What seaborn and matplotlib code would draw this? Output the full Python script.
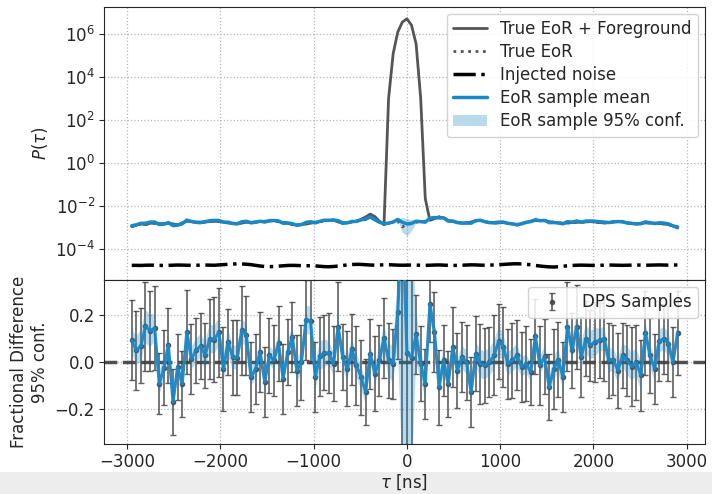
import numpy as np
import pandas as pd
import matplotlib
matplotlib.use("Agg")
import matplotlib.pyplot as plt
from matplotlib.patches import Rectangle
from matplotlib.ticker import NullLocator
import seaborn as sns

# ---------------- data ----------------
n_delays = 120
delay_step_ns = 49.2
tau = (np.arange(n_delays) - n_delays // 2) * delay_step_ns

# True EoR power (units of 1e-3)
eor_true_e3 = [
    1.09, 1.26, 1.45, 1.35, 1.56, 1.56, 1.50, 1.45, 1.56, 1.45,
    1.30, 1.61, 1.93, 1.86, 1.67, 1.61, 1.79, 1.86, 1.93, 1.86,
    1.79, 1.61, 1.50, 1.45, 1.61, 1.73, 1.73, 1.79, 1.86, 1.93,
    2.00, 2.07, 1.86, 1.67, 1.56, 1.35, 1.30, 1.35, 1.45, 1.56,
    1.73, 1.86, 2.07, 2.07, 2.22, 1.79, 1.56, 1.67, 1.79, 1.93,
    2.39, 2.75, 2.96, 2.39, 1.73, 1.35, 1.56, 1.79, 1.93, 1.05,
    1.40, 1.50, 1.73, 1.86, 1.93, 2.15, 2.56, 3.08, 2.75, 2.15,
    1.86, 1.73, 1.56, 1.61, 1.79, 2.00, 2.15, 1.86, 1.67, 1.61,
    1.61, 1.67, 1.56, 1.45, 1.30, 1.50, 1.73, 1.93, 2.07, 2.07,
    2.07, 1.86, 1.73, 1.61, 1.56, 1.61, 1.67, 1.73, 1.73, 1.79,
    1.86, 1.79, 1.67, 1.61, 1.67, 1.79, 1.93, 1.79, 1.61, 1.56,
    1.45, 1.56, 1.61, 1.61, 1.56, 1.50, 1.45, 1.35, 1.17, 0.94,
]

# Foreground power near tau = 0 (indices 50..66), negligible elsewhere
fg_index = [50, 51, 52, 53, 54, 55, 56, 57, 58, 59, 60, 61, 62, 63, 64, 65, 66]
fg_power = [0.0, 3e-4, 1.2e-3, 8e-4, 2e-4, 0.0, 1.0e3, 1.2e5, 1.2e6, 3.5e6,
            5.0e6, 2.5e6, 3.4e5, 1.0e3, 2.0e-2, 0.0, 0.0]

# Injected noise (units of 1e-5)
noise_e5 = [
    1.72, 1.72, 1.70, 1.74, 1.76, 1.74, 1.72, 1.70, 1.72, 1.75,
    1.78, 1.76, 1.74, 1.72, 1.74, 1.76, 1.78, 1.76, 1.74, 1.80,
    1.86, 1.92, 1.98, 2.02, 2.00, 1.94, 1.85, 1.72, 1.60, 1.52,
    1.50, 1.52, 1.58, 1.64, 1.70, 1.72, 1.70, 1.66, 1.64, 1.66,
    1.62, 1.56, 1.50, 1.48, 1.52, 1.60, 1.70, 1.80, 1.88, 1.92,
    1.90, 1.84, 1.78, 1.76, 1.78, 1.82, 1.84, 1.80, 1.76, 1.74,
    1.76, 1.78, 1.76, 1.74, 1.72, 1.74, 1.78, 1.80, 1.76, 1.72,
    1.70, 1.72, 1.74, 1.78, 1.82, 1.80, 1.76, 1.74, 1.76, 1.80,
    1.84, 1.90, 1.96, 2.02, 2.04, 2.00, 1.92, 1.82, 1.70, 1.60,
    1.52, 1.46, 1.44, 1.48, 1.56, 1.64, 1.70, 1.74, 1.76, 1.74,
    1.72, 1.70, 1.72, 1.76, 1.78, 1.76, 1.74, 1.72, 1.74, 1.76,
    1.78, 1.76, 1.74, 1.76, 1.78, 1.80, 1.78, 1.76, 1.78, 1.80,
]

# Fractional difference of the sample mean / DPS samples
frac_mean = [
    0.093, 0.050, 0.069, 0.153, 0.133, 0.146, -0.093, -0.024, 0.071, -0.171,
    -0.021, -0.093, 0.128, 0.014, 0.050, 0.069, 0.029, 0.100, 0.096, 0.128,
    -0.029, 0.086, 0.021, 0.019, 0.136, 0.114, -0.064, -0.029, 0.043, -0.085,
    0.029, 0.007, 0.081, -0.071, 0.043, 0.107, -0.036, 0.000, 0.181, 0.176,
    -0.064, 0.024, 0.039, 0.039, -0.007, 0.150, 0.021, -0.029, 0.054, -0.014,
    -0.064, -0.128, 0.036, -0.050, 0.007, 0.103, 0.007, -0.007, 0.214, 0.650,
    0.039, 0.019, 0.118, -0.007, -0.093, 0.247, 0.128, -0.107, 0.007, -0.093,
    0.064, -0.036, 0.021, 0.000, -0.128, 0.036, -0.007, -0.014, 0.000, 0.029,
    0.090, 0.064, -0.007, 0.007, 0.029, -0.021, -0.007, -0.043, 0.110, -0.014,
    0.024, -0.107, -0.029, 0.010, -0.064, 0.150, 0.050, 0.150, 0.021, 0.100,
    0.071, 0.086, 0.093, 0.100, 0.007, 0.010, -0.036, 0.029, 0.007, -0.019,
    0.000, -0.057, 0.124, 0.029, -0.029, 0.090, 0.100, 0.079, 0.000, 0.124,
]

# 95% half-width of the DPS sample error bars
dps_err = [
    0.17, 0.17, 0.16, 0.19, 0.17, 0.18, 0.13, 0.16, 0.16, 0.14,
    0.14, 0.14, 0.18, 0.15, 0.14, 0.14, 0.14, 0.17, 0.18, 0.19,
    0.18, 0.14, 0.16, 0.16, 0.19, 0.17, 0.15, 0.15, 0.17, 0.15,
    0.16, 0.15, 0.16, 0.15, 0.14, 0.15, 0.15, 0.16, 0.17, 0.18,
    0.15, 0.17, 0.16, 0.17, 0.16, 0.19, 0.14, 0.16, 0.15, 0.17,
    0.16, 0.14, 0.15, 0.16, 0.15, 0.17, 0.16, 0.15, 0.20, 1.30,
    0.90, 0.70, 0.17, 0.16, 0.15, 0.16, 0.17, 0.16, 0.15, 0.14,
    0.17, 0.16, 0.15, 0.16, 0.15, 0.16, 0.17, 0.16, 0.15, 0.17,
    0.16, 0.17, 0.15, 0.16, 0.15, 0.15, 0.16, 0.14, 0.16, 0.17,
    0.16, 0.14, 0.17, 0.16, 0.15, 0.19, 0.16, 0.18, 0.17, 0.16,
    0.15, 0.17, 0.16, 0.18, 0.16, 0.15, 0.16, 0.14, 0.15, 0.17,
    0.16, 0.15, 0.18, 0.16, 0.15, 0.17, 0.15, 0.16, 0.15, 0.18,
]

# 95% half-width of the sample-mean band
band_half = [
    0.05, 0.06, 0.07, 0.07, 0.07, 0.06, 0.05, 0.05, 0.05, 0.05,
    0.04, 0.04, 0.05, 0.05, 0.05, 0.05, 0.06, 0.06, 0.06, 0.06,
    0.06, 0.06, 0.05, 0.05, 0.05, 0.05, 0.04, 0.04, 0.04, 0.04,
    0.04, 0.04, 0.04, 0.04, 0.04, 0.05, 0.05, 0.05, 0.06, 0.06,
    0.06, 0.06, 0.06, 0.05, 0.05, 0.05, 0.05, 0.05, 0.05, 0.05,
    0.05, 0.05, 0.04, 0.04, 0.05, 0.06, 0.07, 0.08, 0.15, 1.10,
    0.75, 0.55, 0.12, 0.07, 0.06, 0.06, 0.05, 0.05, 0.05, 0.04,
    0.04, 0.04, 0.05, 0.05, 0.05, 0.05, 0.06, 0.06, 0.06, 0.06,
    0.06, 0.06, 0.05, 0.05, 0.05, 0.04, 0.04, 0.04, 0.04, 0.04,
    0.04, 0.04, 0.05, 0.05, 0.05, 0.05, 0.05, 0.06, 0.06, 0.06,
    0.06, 0.06, 0.05, 0.05, 0.05, 0.05, 0.05, 0.05, 0.06, 0.06,
    0.06, 0.06, 0.05, 0.05, 0.05, 0.05, 0.05, 0.05, 0.04, 0.04,
]

# ---------------- derived quantities ----------------
eor_true = np.array(eor_true_e3) * 1e-3
frac = np.array(frac_mean)
half = np.array(band_half)
foreground = np.zeros(n_delays)
foreground[fg_index] = fg_power
total = eor_true + foreground
noise = np.array(noise_e5) * 1e-5
eor_mean = eor_true * (1 + frac)
eor_lo = eor_true * np.clip(1 + frac - half, 1e-3, None)
eor_hi = eor_true * (1 + frac + half)

df = pd.DataFrame({"tau": tau, "total": total, "true": eor_true,
                   "noise": noise, "mean": eor_mean, "frac": frac})

# ---------------- style ----------------
sns.set_style("ticks")
plt.rcParams["font.family"] = ["DejaVu Sans"]
plt.rcParams["font.size"] = 12

blue = "#1b88c6"

fig = plt.figure(figsize=(7.12, 4.94), dpi=100)
fig.add_artist(Rectangle((0, 0), 1, 0.044, transform=fig.transFigure,
                         facecolor="#ededed", edgecolor="none", zorder=-5))
ax1 = fig.add_axes([0.146, 0.433, 0.844, 0.553])
ax2 = fig.add_axes([0.146, 0.101, 0.844, 0.332], sharex=ax1)

# ---------------- top panel ----------------
sns.lineplot(data=df, x="tau", y="total", ax=ax1, color="#555555", lw=2,
             label="True EoR + Foreground", zorder=3)
sns.lineplot(data=df, x="tau", y="true", ax=ax1, color="#555555", lw=2,
             linestyle=":", label="True EoR", zorder=4)
sns.lineplot(data=df, x="tau", y="noise", ax=ax1, color="black", lw=2.5,
             linestyle="-.", label="Injected noise", zorder=3)
sns.lineplot(data=df, x="tau", y="mean", ax=ax1, color=blue, lw=2.5,
             label="EoR sample mean", zorder=5)
ax1.fill_between(tau, eor_lo, eor_hi, color=blue, alpha=0.3, lw=0,
                 label="EoR sample 95% conf.", zorder=2)
ax1.set_yscale("log")
ax1.set_ylim(10 ** -5.45, 10 ** 7.25)
ax1.set_yticks([1e-4, 1e-2, 1e0, 1e2, 1e4, 1e6])
ax1.yaxis.set_minor_locator(NullLocator())
ax1.set_ylabel(r"$P(\tau)$", fontsize=12)
ax1.set_xlabel("")
ax1.tick_params(labelbottom=False, labelsize=12, length=3.5, width=0.8,
                pad=3)
ax1.grid(True, ls=":", color="#b5b5b5", lw=0.9)
ax1.legend(loc="upper right", fontsize=12, framealpha=0.85,
           borderaxespad=0.4, handlelength=2.0, labelspacing=0.3)

# ---------------- bottom panel ----------------
ax2.axhline(0, ls="--", color="#333333", lw=2.5, alpha=0.85, zorder=1.5)
ax2.errorbar(tau, frac, yerr=dps_err, fmt="o", color="#444444", ms=3,
             elinewidth=1.2, capsize=2, capthick=1, alpha=0.85,
             label="DPS Samples", zorder=2)
ax2.fill_between(tau, frac - half, frac + half, color=blue, alpha=0.3,
                 lw=0, zorder=2.5)
sns.lineplot(data=df, x="tau", y="frac", ax=ax2, color=blue, lw=2.2,
             alpha=0.95, zorder=3, legend=False)
ax2.set_ylim(-0.35, 0.35)
ax2.set_yticks([-0.2, 0.0, 0.2])
ax2.set_xlim(-3250, 3196)
ax2.set_xticks([-3000, -2000, -1000, 0, 1000, 2000, 3000])
ax2.set_xlabel(r"$\tau$ [ns]", fontsize=12, labelpad=1)
ax2.set_ylabel("Fractional Difference\n95% conf.", fontsize=12)
ax2.tick_params(labelsize=12, length=3.5, width=0.8, pad=3)
ax2.grid(True, ls=":", color="#b5b5b5", lw=0.9)
ax2.legend(loc="upper right", fontsize=12, framealpha=0.85,
           borderaxespad=0.4)

fig.align_ylabels([ax1, ax2])
fig.savefig("out.png", dpi=100)
